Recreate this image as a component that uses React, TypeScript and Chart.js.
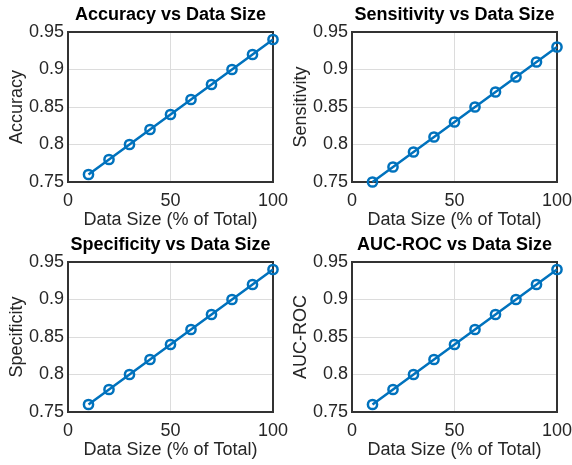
import React, { useEffect, useRef } from "react";
import { Chart, registerables } from "chart.js";

Chart.register(...registerables);

const dataSizes = [10, 20, 30, 40, 50, 60, 70, 80, 90, 100];
const accuracy = [0.76, 0.78, 0.8, 0.82, 0.84, 0.86, 0.88, 0.9, 0.92, 0.94];
const sensitivity = [0.75, 0.77, 0.79, 0.81, 0.83, 0.85, 0.87, 0.89, 0.91, 0.93];
const specificity = [0.76, 0.78, 0.8, 0.82, 0.84, 0.86, 0.88, 0.9, 0.92, 0.94];
const aucRoc = [0.76, 0.78, 0.8, 0.82, 0.84, 0.86, 0.88, 0.9, 0.92, 0.94];
const xTickValues = [0, 50, 100];
const yTickValues = [0.75, 0.8, 0.85, 0.9, 0.95];
const xAxisLabel = "Data Size (% of Total)";

const panels = [
  { title: "Accuracy vs Data Size", yLabel: "Accuracy", values: accuracy },
  { title: "Sensitivity vs Data Size", yLabel: "Sensitivity", values: sensitivity },
  { title: "Specificity vs Data Size", yLabel: "Specificity", values: specificity },
  { title: "AUC-ROC vs Data Size", yLabel: "AUC-ROC", values: aucRoc },
];

const FONT = "'Liberation Sans', Arial, Helvetica, sans-serif";
const TEXT = "#262626";
const LINE = "#0072BD";

const boxPlugin = {
  id: "box",
  beforeDatasetsDraw(chart: any) {
    const { ctx, chartArea } = chart;
    ctx.save();
    ctx.strokeStyle = "#333333";
    ctx.lineWidth = 2;
    ctx.strokeRect(chartArea.left, chartArea.top, chartArea.right - chartArea.left, chartArea.bottom - chartArea.top);
    ctx.restore();
  },
};

function Panel({ title, yLabel, values }: { title: string; yLabel: string; values: number[] }) {
  const ref = useRef<HTMLCanvasElement>(null);
  useEffect(() => {
    if (!ref.current) return;
    const chart = new Chart(ref.current, {
      type: "line",
      data: {
        datasets: [
          {
            data: dataSizes.map((x, i) => ({ x, y: values[i] })),
            borderColor: LINE,
            borderWidth: 2.5,
            pointRadius: 4.6,
            pointBorderWidth: 2.5,
            pointBorderColor: LINE,
            pointBackgroundColor: "rgba(0,0,0,0)",
            fill: false,
            tension: 0,
            clip: false as any,
          },
        ],
      },
      options: {
        animation: false,
        responsive: false,
        layout: { padding: { left: 0, right: 27, top: 0, bottom: 0 } },
        plugins: {
          legend: { display: false },
          tooltip: { enabled: false },
          title: {
            display: true,
            fullSize: false,
            text: title,
            color: "#000",
            font: { family: FONT, size: 18, weight: "bold", lineHeight: 1.2 },
            padding: { top: 4.7, bottom: 5.7 },
          },
        },
        scales: {
          x: {
            type: "linear",
            min: 0,
            max: 100,
            afterBuildTicks: (s: any) => {
              s.ticks = xTickValues.map((v) => ({ value: v }));
            },
            afterFit: (s: any) => {
              s.height = 50;
              s.paddingLeft = 0;
              s.paddingRight = 0;
            },
            grid: { color: "#dcdcdc", lineWidth: 1, drawTicks: false },
            border: { display: false },
            ticks: {
              color: TEXT,
              padding: 8,
              maxRotation: 0,
              font: { family: FONT, size: 18 },
            },
            title: {
              display: true,
              text: xAxisLabel,
              color: TEXT,
              font: { family: FONT, size: 18, lineHeight: 1.2 },
              padding: { top: 0, bottom: 1.2 },
            },
          },
          y: {
            type: "linear",
            min: 0.75,
            max: 0.95,
            afterBuildTicks: (s: any) => {
              s.ticks = yTickValues.map((v) => ({ value: v }));
            },
            afterFit: (s: any) => {
              s.width = 68;
              s.paddingTop = 0;
              s.paddingBottom = 0;
            },
            grid: { color: "#dcdcdc", lineWidth: 1, drawTicks: false },
            border: { display: false },
            ticks: {
              color: TEXT,
              padding: 4,
              font: { family: FONT, size: 18 },
              callback: (v: any) => String(+Number(v).toFixed(2)),
            },
            title: {
              display: true,
              text: yLabel,
              color: TEXT,
              font: { family: FONT, size: 18, lineHeight: 1.2 },
              padding: { top: 6.2, bottom: 0 },
            },
          },
        },
      },
      plugins: [boxPlugin],
    });
    return () => chart.destroy();
  }, [title, yLabel, values]);
  return <canvas ref={ref} width={300} height={232} style={{ display: "block" }} />;
}

const positions = [
  { left: 0, top: 0 },
  { left: 284, top: 0 },
  { left: 0, top: 230 },
  { left: 284, top: 230 },
];

export default function App() {
  return (
    <div style={{ position: "absolute", left: 0, top: 0, width: 572, height: 465, background: "#fff", overflow: "hidden" }}>
      {panels.map((p, i) => (
        <div key={i} style={{ position: "absolute", left: positions[i].left, top: positions[i].top, width: 300, height: 232 }}>
          <Panel title={p.title} yLabel={p.yLabel} values={p.values} />
        </div>
      ))}
    </div>
  );
}
